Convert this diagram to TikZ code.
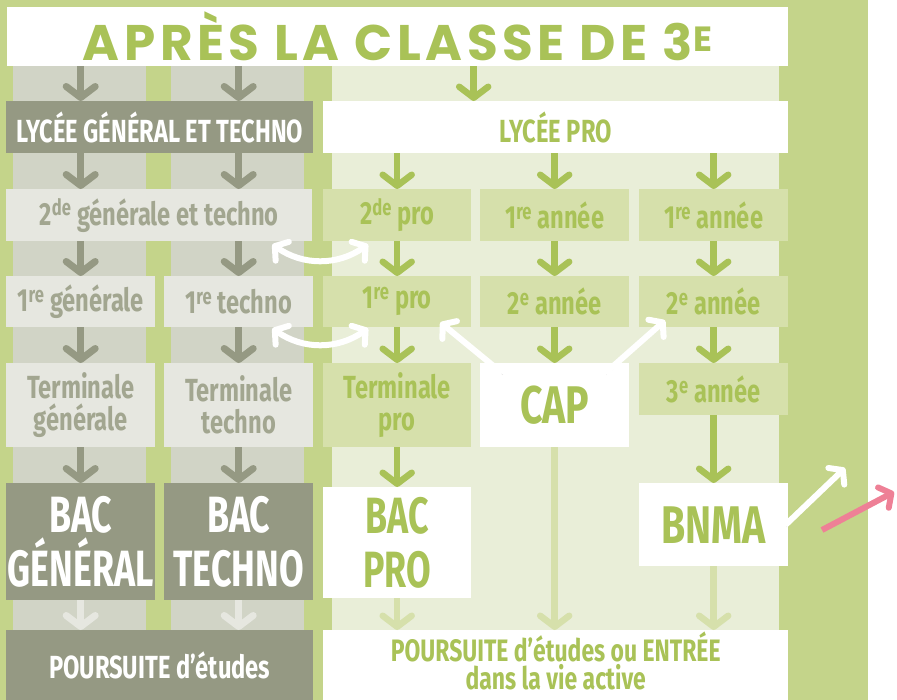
\documentclass[tikz,border=0pt]{standalone}
\usepackage{fontspec}
\setmainfont{Fira Sans}[FakeStretch=0.74]
\newfontfamily\bacfont{Fira Sans}[FakeStretch=0.70]
\newfontfamily\titlefont{Poppins}[LetterSpace=9]
\usetikzlibrary{arrows.meta}
\usetikzlibrary{positioning}

\definecolor{bggreen}{HTML}{C4D48A}
\definecolor{palegreen}{HTML}{E9EED8}
\definecolor{colgray}{HTML}{D1D4C6}
\definecolor{dkgray}{HTML}{959983}
\definecolor{ltgray}{HTML}{E6E7E0}
\definecolor{txtgray}{HTML}{A2A690}
\definecolor{lycgreen}{HTML}{A9C257}
\definecolor{boxgreen}{HTML}{D6E0AB}
\definecolor{pinky}{HTML}{EE8096}

\newcommand{\sx}[1]{\textsuperscript{#1}}

\begin{document}
\begin{tikzpicture}[x=1pt, y=-1pt,
    box/.style={inner sep=0pt, anchor=north west, align=center,
        font=\bfseries\fontsize{32}{32}\selectfont},
    bigtxt/.style={font=\bacfont\bfseries\fontsize{51}{54}\selectfont},
    captxt/.style={font=\bfseries\fontsize{53}{54}\selectfont},
    darkbox/.style={box, fill=dkgray, text=white},
    lightbox/.style={box, fill=ltgray, text=txtgray},
    greenbox/.style={box, fill=boxgreen, text=lycgreen},
    whitebox/.style={box, fill=white, text=lycgreen},
    tip/.style={-{Straight Barb[length=11pt, width=29pt, round]}},
    darr/.style={tip, draw=dkgray, line width=7pt},
    larr/.style={tip, draw=ltgray, line width=7pt},
    garr/.style={tip, draw=lycgreen, line width=6.5pt},
    parr/.style={tip, draw=boxgreen, line width=6.5pt},
    wtip/.style={-{Straight Barb[length=9pt, width=23pt, round]}},
    warr/.style={wtip, draw=white, line width=6pt,
        preaction={draw=black, opacity=0.12, transform canvas={shift={(1,2)}}}},
    wwarr/.style={warr, {Straight Barb[length=9pt, width=23pt, round]}-{Straight Barb[length=9pt, width=23pt, round]}}
    ]
    \useasboundingbox (0,0) rectangle (897,700);
    \fill[bggreen] (0,0) rectangle (868,700);
    \fill[colgray] (13,66) rectangle (146,630);
    \fill[colgray] (171,66) rectangle (304,630);
    \fill[palegreen] (332,66) rectangle (779,630);
    \fill[white] (323,680) rectangle (788,700);

    \node[whitebox, minimum width=781, minimum height=59,
        font=\titlefont\bfseries\fontsize{50}{50}\selectfont] (title) at (7,7) {APRÈS LA CLASSE DE 3\sx{E}};

    \node[darkbox, minimum width=307, minimum height=52] (lgt) at (6,101) {LYCÉE GÉNÉRAL ET TECHNO};
    \node[whitebox, minimum width=465, minimum height=52] (lp) at (323,101) {LYCÉE PRO};

    \node[lightbox, minimum width=306, minimum height=52] (g2) at (6,189) {2\sx{de} générale et techno};
    \node[greenbox, minimum width=148, minimum height=52] (p2) at (323,189) {2\sx{de} pro};
    \node[greenbox, minimum width=149, minimum height=52] (c1) at (480,189) {1\sx{re} année};
    \node[greenbox, minimum width=149, minimum height=52] (n1) at (639,189) {1\sx{re} année};

    \node[lightbox, minimum width=149, minimum height=51] (gen1) at (6,276) {1\sx{re} générale};
    \node[lightbox, minimum width=149, minimum height=51] (tec1) at (164,276) {1\sx{re} techno};
    \node[greenbox, minimum width=148, minimum height=51] (p1) at (323,276) {1\sx{re} pro};
    \node[greenbox, minimum width=149, minimum height=51] (c2) at (480,276) {2\sx{e} année};
    \node[greenbox, minimum width=149, minimum height=51] (n2) at (639,276) {2\sx{e} année};

    \node[lightbox, minimum width=149, minimum height=84] (gent) at (6,363) {Terminale\\générale};
    \node[lightbox, minimum width=149, minimum height=84] (tect) at (164,363) {Terminale\\techno};
    \node[greenbox, minimum width=148, minimum height=84] (pt) at (323,363) {Terminale\\pro};
    \node[whitebox, captxt, minimum width=149, minimum height=84] (cap) at (480,363) {CAP};
    \node[greenbox, minimum width=149, minimum height=52] (n3) at (639,363) {3\sx{e} année};

    \node[darkbox, bigtxt, minimum width=149, minimum height=117] (bg) at (6,483) {BAC\\GÉNÉRAL};
    \node[darkbox, bigtxt, minimum width=149, minimum height=117] (bt) at (164,483) {BAC\\TECHNO};
    \node[whitebox, bigtxt, minimum width=148, minimum height=111] (bp) at (323,487) {BAC\\PRO};
    \node[whitebox, captxt, minimum width=149, minimum height=83] (bn) at (639,483) {BNMA};

    \node[darkbox, minimum width=307, minimum height=70] (pg) at (6,630) {POURSUITE d’études};
    \node[whitebox, minimum width=465, minimum height=62,
        font=\bfseries\fontsize{31}{28}\selectfont] (pa) at (323,630) {POURSUITE d’études ou ENTRÉE\\dans la vie active};

    \coordinate (lpin) at ([xshift=-82]lp.north);
    \coordinate (out1) at (845,468);
    \coordinate (pk1) at (822,530);
    \coordinate (pk2) at (894,492);

    \draw[darr] (title.south -| gen1.north) -- (lgt.north -| gen1.north);
    \draw[darr] (title.south -| tec1.north) -- (lgt.north -| tec1.north);
    \draw[darr] (lgt.south -| gen1.north) -- (g2.north -| gen1.north);
    \draw[darr] (lgt.south -| tec1.north) -- (g2.north -| tec1.north);
    \draw[darr] (g2.south -| gen1.north) -- (gen1.north);
    \draw[darr] (g2.south -| tec1.north) -- (tec1.north);
    \draw[darr] (gen1) -- (gent);
    \draw[darr] (tec1) -- (tect);
    \draw[darr] (gent) -- (bg);
    \draw[darr] (tect) -- (bt);
    \draw[larr] (bg.south) -- (pg.north -| bg.south);
    \draw[larr] (bt.south) -- (pg.north -| bt.south);

    \draw[garr] (title.south -| lpin) -- (lpin);
    \draw[garr] (lp.south -| p2.north) -- (p2.north);
    \draw[garr] (lp.south -| c1.north) -- (c1.north);
    \draw[garr] (lp.south -| n1.north) -- (n1.north);
    \draw[garr] (p2) -- (p1);
    \draw[garr] (p1) -- (pt);
    \draw[garr] (pt) -- (bp);
    \draw[garr] (c1) -- (c2);
    \draw[garr] (c2) -- (cap);
    \draw[garr] (n1) -- (n2);
    \draw[garr] (n2) -- (n3);
    \draw[garr] (n3) -- (bn);
    \draw[parr] (bp.south) -- (pa.north -| bp.south);
    \draw[parr] (cap.south) -- (pa.north -| cap.south);
    \draw[parr] (bn.south) -- (pa.north -| bn.south);

    \draw[wwarr] ([shift={(-40,3)}]g2.south east) to[bend right=35] ([shift={(45,3)}]p2.south west);
    \draw[wwarr] ([shift={(-41,1)}]tec1.south east) to[bend right=35] ([shift={(45,1)}]p1.south west);
    \draw[warr] ([shift={(22,10)}]cap.north west) -- ([shift={(-31,-5)}]p1.south east);
    \draw[warr] ([shift={(-24,10)}]cap.north east) -- ([shift={(26,-7)}]n2.south west);
    \draw[warr] ([shift={(-3,42)}]bn.north east) -- (out1);
    \draw[-{Straight Barb[length=9pt, width=23pt, round]}, draw=pinky, line width=6pt] (pk1) -- (pk2);
\end{tikzpicture}
\end{document}
